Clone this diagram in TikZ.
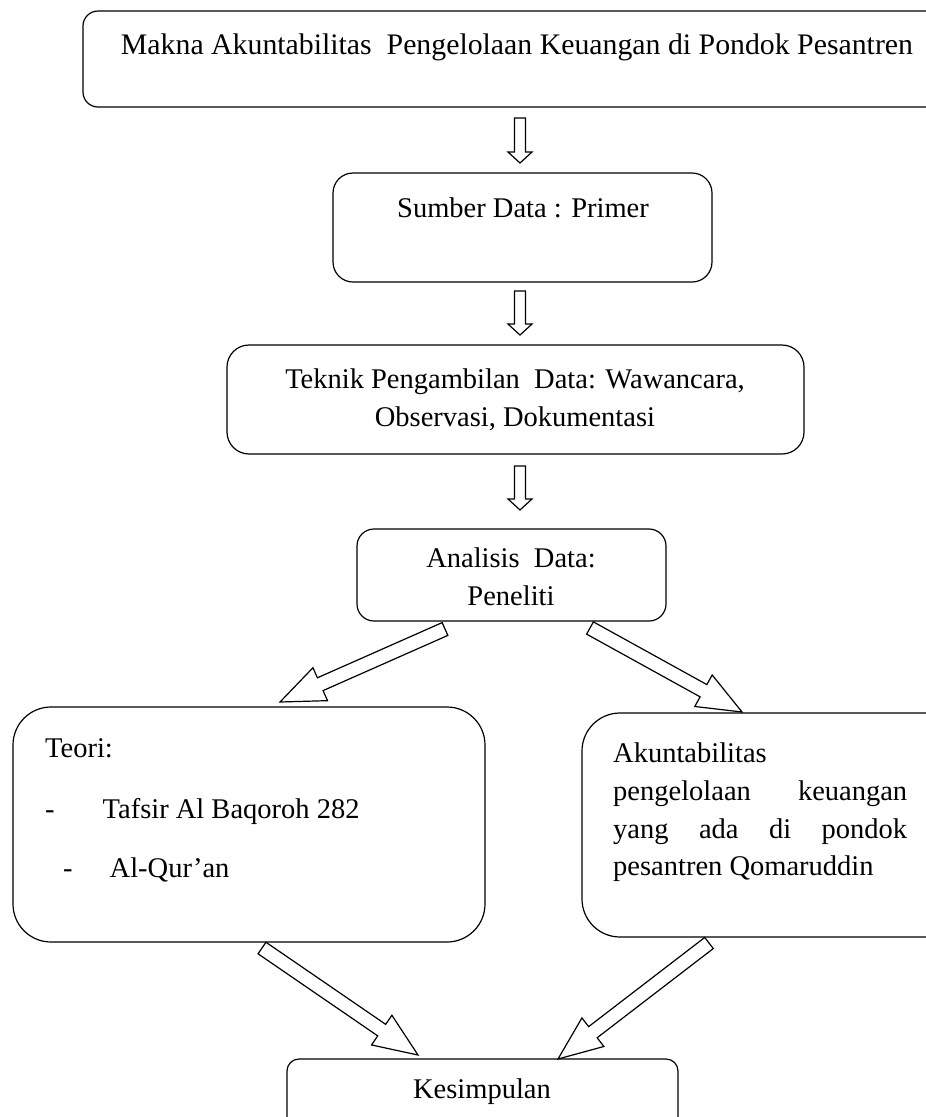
\documentclass[tikz,border=0pt]{standalone}
\usepackage{fontspec}
\setmainfont{Liberation Serif}
\usetikzlibrary{calc}

\tikzset{
  box/.style={draw, rounded corners=#1, line width=1.2pt, inner sep=0pt},
  box/.default=20pt,
  txt/.style={inner sep=0pt, font=\fontsize{28.5}{38}\selectfont},
  hollow/.style={draw, line width=1.2pt, fill=white, line join=miter},
}

% hollow block arrow: tail, tip, shaft half width, head half width, head length
\newcommand{\blockarrow}[5]{%
  \path let \p1=(#1), \p2=(#2) in \pgfextra{%
    \pgfmathsetmacro\baang{atan2(\y2-\y1,\x2-\x1)}\global\let\arrang\baang
    \pgfmathsetmacro\balen{veclen(\x2-\x1,\y2-\y1)}\global\let\arrlen\balen} (#1);
  \draw[hollow, shift={(#1)}, rotate=\arrang]
    (0pt,-#3) -- ({\arrlen pt-#5},-#3) -- ({\arrlen pt-#5},-#4) -- (\arrlen pt,0pt)
    -- ({\arrlen pt-#5},#4) -- ({\arrlen pt-#5},#3) -- (0pt,#3) -- cycle;
}

\begin{document}
\begin{tikzpicture}[x=1pt, y=-1pt]
\useasboundingbox (0,0) rectangle (926,1117);
\clip (0,0) rectangle (926,1117);

% boxes
\node[box=15pt, minimum width=877pt, minimum height=96pt] (makna) at (521.5,59) {};
\node[box=20pt, minimum width=379pt, minimum height=109pt] (sumber) at (522.5,227.5) {};
\node[box=22pt, minimum width=577pt, minimum height=109pt] (teknik) at (515.5,399.5) {};
\node[box=17pt, minimum width=309pt, minimum height=92pt] (analisis) at (511.5,575) {};
\node[box=38pt, minimum width=472pt, minimum height=235pt] (teori) at (249,824.5) {};
\node[box=38pt, minimum width=383pt, minimum height=224pt] (akun) at (773.5,825) {};
\node[box=12pt, minimum width=391pt, minimum height=76pt] (kes) at (482.5,1097) {};

% texts
\node[txt, font=\fontsize{29.8}{38}\selectfont, anchor=base] (makna-t) at (517,54) {Makna Akuntabilitas\ \ Pengelolaan Keuangan di Pondok Pesantren};
\node[txt, anchor=base] (sumber-t) at (523,217) {Sumber Data : Primer};
\node[txt, align=center] (teknik-t) at (515,400) {Teknik Pengambilan\ \ Data: Wawancara,\\ Observasi, Dokumentasi};
\node[txt, align=center] (analisis-t) at (511,577) {Analisis\ \ Data:\\ Peneliti};
\node[txt, anchor=base west] (teori-l1) at (45,757) {Teori:};
\node[txt, anchor=base west] (teori-l2) at (45,818) {-\hspace{48pt}Tafsir Al Baqoroh 282};
\node[txt, anchor=base west] (teori-l3) at (63,877) {-\hspace{37pt}Al-Qur'an};
\node[txt, anchor=base west] (akun-l1) at (613,762) {Akuntabilitas};
\node[txt, anchor=base west] (akun-l2) at (613,800) {\makebox[294pt][s]{pengelolaan keuangan}};
\node[txt, anchor=base west] (akun-l3) at (613,838) {\makebox[294pt][s]{yang ada di pondok}};
\node[txt, anchor=base west] (akun-l4) at (613,875) {pesantren Qomaruddin};
\node[txt, anchor=base] (kes-t) at (482,1098) {Kesimpulan};

% arrow ends
\coordinate (a1s) at (520,118);  \coordinate (a1e) at (520,163);
\coordinate (a2s) at (520,291);  \coordinate (a2e) at (520,335);
\coordinate (a3s) at (520,466);  \coordinate (a3e) at (520,510);
\coordinate (dls) at (445,629);  \coordinate (dle) at (280,702);
\coordinate (drs) at (590,628);  \coordinate (dre) at (742,712);
\coordinate (bls) at (262,948);  \coordinate (ble) at (418,1055);
\coordinate (brs) at (709,943);  \coordinate (bre) at (558,1059);

\blockarrow{a1s}{a1e}{5.5pt}{12pt}{11pt}
\blockarrow{a2s}{a2e}{5.5pt}{12pt}{11pt}
\blockarrow{a3s}{a3e}{5.5pt}{12pt}{11pt}
\blockarrow{dls}{dle}{7pt}{18pt}{44pt}
\blockarrow{drs}{dre}{7pt}{18pt}{44pt}
\blockarrow{bls}{ble}{7pt}{18pt}{44pt}
\blockarrow{brs}{bre}{7pt}{18pt}{44pt}
\end{tikzpicture}
\end{document}
